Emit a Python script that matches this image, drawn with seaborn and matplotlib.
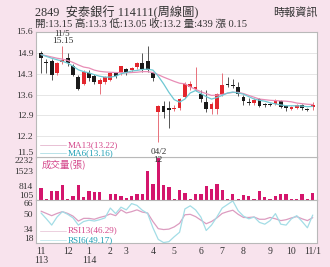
import numpy as np
import pandas as pd
import matplotlib
matplotlib.use("Agg")
import matplotlib.pyplot as plt
import seaborn as sns

# ---------------- data ----------------
opens = [14.92, 14.62, 14.64, 14.25, 14.62, 14.75, 14.49, 14.13, 13.91, 14.27,
         14.16, 13.91, 13.96, 14.04, 14.27, 14.27, 14.38, 14.36, 14.45, 14.58,
         14.64, 14.25, 12.98, 13.18, 13.10, 13.07, 13.12, 13.48, 13.80, 13.72,
         13.57, 13.29, 13.07, 13.07, 13.57, 13.91, 13.87, 13.80, 13.48, 13.30,
         13.26, 13.40, 13.24, 13.24, 13.24, 13.33, 13.18, 13.08, 13.12, 13.22,
         13.08, 13.15]
highs = [14.98, 14.70, 14.70, 14.62, 15.15, 14.92, 14.55, 14.20, 14.35, 14.35,
         14.22, 14.08, 14.15, 14.30, 14.30, 14.50, 14.42, 14.45, 14.60, 14.92,
         15.15, 14.30, 13.20, 13.35, 13.35, 13.20, 13.45, 13.95, 13.98, 14.45,
         13.70, 13.70, 13.30, 13.60, 14.25, 14.13, 14.05, 13.95, 13.52, 13.45,
         13.42, 13.45, 13.28, 13.28, 13.40, 13.38, 13.20, 13.18, 13.25, 13.25,
         13.10, 13.30]
lows = [14.25, 14.25, 14.04, 14.20, 14.55, 14.50, 14.15, 13.70, 13.85, 14.00,
        13.90, 13.57, 13.90, 14.00, 14.10, 14.20, 14.20, 14.30, 14.40, 14.30,
        14.30, 14.00, 12.00, 12.79, 12.45, 13.00, 13.05, 13.45, 13.70, 13.65,
        13.30, 12.98, 12.90, 12.90, 13.50, 13.80, 13.75, 13.50, 13.20, 13.20,
        13.20, 13.15, 13.15, 13.17, 13.20, 13.10, 13.02, 13.03, 13.08, 13.05,
        13.00, 13.05]
closes = [14.75, 14.58, 14.19, 14.58, 14.68, 14.58, 14.19, 13.74, 14.30, 14.08,
          13.96, 14.02, 14.11, 14.27, 14.16, 14.47, 14.27, 14.41, 14.58, 14.38,
          14.36, 14.08, 13.18, 12.99, 13.05, 13.12, 13.40, 13.91, 13.91, 13.78,
          13.40, 13.07, 13.24, 13.57, 13.85, 13.87, 13.82, 13.57, 13.33, 13.28,
          13.38, 13.18, 13.20, 13.20, 13.33, 13.15, 13.10, 13.15, 13.22, 13.12,
          13.05, 13.20]
volume = [699, 150, 566, 566, 843, 145, 327, 843, 233, 532,
          477, 477, 105, 421, 421, 327, 199, 288, 383, 421,
          1548, 899, 2232, 843, 754, 150, 605, 438, 150, 383,
          421, 810, 660, 882, 621, 160, 421, 150, 350, 288,
          150, 532, 233, 160, 288, 383, 383, 150, 150, 383,
          150, 439]
ma13 = [14.86, 14.82, 14.78, 14.74, 14.71, 14.67, 14.60, 14.52, 14.45, 14.42,
        14.35, 14.31, 14.29, 14.28, 14.27, 14.27, 14.26, 14.27, 14.28, 14.30,
        14.30, 14.27, 14.20, 14.12, 14.05, 13.98, 13.92, 13.90, 13.80, 13.72,
        13.64, 13.58, 13.52, 13.53, 13.55, 13.59, 13.62, 13.62, 13.58, 13.52,
        13.46, 13.40, 13.38, 13.36, 13.35, 13.34, 13.33, 13.31, 13.27, 13.25,
        13.23, 13.22]
ma6 = [14.86, 14.80, 14.74, 14.69, 14.64, 14.58, 14.48, 14.36, 14.30, 14.26,
       14.20, 14.15, 14.12, 14.12, 14.15, 14.23, 14.27, 14.32, 14.34, 14.37,
       14.38, 14.35, 14.15, 13.90, 13.62, 13.38, 13.30, 13.40, 13.60, 13.68,
       13.58, 13.48, 13.40, 13.45, 13.52, 13.60, 13.63, 13.60, 13.56, 13.48,
       13.40, 13.36, 13.33, 13.28, 13.24, 13.21, 13.18, 13.18, 13.18, 13.17,
       13.15, 13.16]
rsi13 = [53.5, 51, 48.5, 51, 53, 51, 48, 42.5, 45.5, 45.5,
         44.5, 46.5, 48, 50.5, 48.5, 55, 51.5, 53, 55, 52.5,
         51.5, 42, 34, 33, 33.5, 36, 40, 49.5, 50, 47.5,
         43.5, 39.5, 42, 46, 51, 53, 54.6, 50, 46.5, 46.5,
         47, 44.5, 44.5, 46.5, 45, 43, 44, 46, 47.5, 45,
         43, 46.29]
rsi6 = [51.5, 45, 38, 47, 53, 50, 46, 38, 42, 43.5,
        42.5, 44, 46, 57, 50.8, 58, 55, 62, 60, 54.6,
        51, 35, 22, 18.5, 19.5, 25, 30, 56, 59.5, 55,
        47, 32, 38, 47, 57, 61, 65, 54, 48, 45,
        47, 41, 39, 43, 50.8, 39, 38, 45, 48.5, 42,
        35, 49.17]
x_tick_pos = [0, 5, 9, 13, 16, 21, 25, 30, 34, 38, 43, 47, 51]
x_tick_labels = ["11\n113", "12", "1\n114", "2", "3", "4", "5", "6", "7", "8", "9", "10", "11/1"]
price_tick_labels = ["11.5", "12.2", "12.9", "13.6", "14.3", "14.9", "15.6"]
vol_tick_labels = ["105", "814", "1523", "2232"]
rsi_ticks = [18, 34, 50, 66]

df = pd.DataFrame({"i": np.arange(len(closes)), "open": opens, "high": highs,
                   "low": lows, "close": closes, "vol": volume,
                   "ma13": ma13, "ma6": ma6, "rsi13": rsi13, "rsi6": rsi6})

# ---------------- style ----------------
sns.set_theme(style="white")
plt.rcParams["font.family"] = ["Liberation Serif", "Noto Sans CJK TC", "DejaVu Sans"]
BG = "#f8e3ed"
RED = "#e3262d"
BLK = "#1a1a1a"
C_MA13 = "#e88db6"
C_MA6 = "#6ec8d3"
C_VOL = "#d4156c"
C_R13 = "#dc9cc0"
C_R6 = "#a3dde6"
TXT = "#333333"
EDGE = "#b9b9b9"

W, H = 330, 267
fig = plt.figure(figsize=(W / 100, H / 100), dpi=100, facecolor=BG)

def px_axes(x0, y0, x1, y1):
    return fig.add_axes([x0 / W, 1 - y1 / H, (x1 - x0) / W, (y1 - y0) / H])

L, R = 36, 317
ax_p = px_axes(L, 32, R, 157)
ax_v = px_axes(L, 157, R, 200)
ax_r = px_axes(L, 200, R, 243)
ax_p.set_zorder(3)

xlim = (-0.95, len(closes) - 0.2)

for ax in (ax_p, ax_v, ax_r):
    ax.set_facecolor("white")
    for s in ax.spines.values():
        s.set_color(EDGE)
        s.set_linewidth(0.8)
    ax.tick_params(axis="both", length=0, pad=2, labelsize=6.8, colors=TXT)

# ---------------- price panel ----------------
pt = np.linspace(11.5, 15.6, 7)
ax_p.set_ylim(11.5, 15.6)
ax_p.set_yticks(pt)
ax_p.set_yticklabels(price_tick_labels)
ax_p.grid(axis="y", color="#e6e6e6", lw=0.7)
ax_p.set_axisbelow(True)

up = df["close"] >= df["open"]
cols = np.where(up, RED, BLK)
ax_p.vlines(df["i"], df["low"], df["high"], colors=np.where(up, "#e8707a", "#555555"), lw=0.7, zorder=2)
body_lo = np.minimum(df["open"], df["close"])
body_h = np.maximum(np.abs(df["close"] - df["open"]), 0.02)
ax_p.bar(df["i"], body_h, bottom=body_lo, width=0.72, color=cols, linewidth=0, zorder=3)

sns.lineplot(data=df, x="i", y="ma13", ax=ax_p, color=C_MA13, lw=0.9, zorder=4)
sns.lineplot(data=df, x="i", y="ma6", ax=ax_p, color=C_MA6, lw=0.9, zorder=4)
ax_p.set_xlim(*xlim)
ax_p.set_xticks([])
ax_p.set_xlabel("")
ax_p.set_ylabel("")
lbls = ax_p.get_yticklabels()
lbls[0].set_va("bottom")
lbls[-1].set_va("center")

ax_p.plot([0.014, 0.108], [0.096, 0.096], transform=ax_p.transAxes, color="#e8c0d4", lw=0.7)
ax_p.plot([0.014, 0.108], [0.034, 0.034], transform=ax_p.transAxes, color="#b8e2e8", lw=0.7)
ax_p.text(0.114, 0.096, "MA13(13.22)", transform=ax_p.transAxes, color="#d4468a",
          fontsize=6.6, va="center", ha="left")
ax_p.text(0.114, 0.034, "MA6(13.16)", transform=ax_p.transAxes, color="#1e9fb4",
          fontsize=6.6, va="center", ha="left")

ax_p.text(4, 15.53, "11/5", fontsize=6.4, color=TXT, ha="center", va="center", clip_on=False)
ax_p.text(4, 15.31, "15.15", fontsize=6.8, color=TXT, ha="center", va="center", clip_on=False)
ax_p.text(22, 11.68, "04/2", fontsize=6.6, color=TXT, ha="center", va="center", clip_on=False, zorder=6)
ax_p.text(22, 11.40, "12", fontsize=6.6, color=TXT, ha="center", va="center", clip_on=False, zorder=6)

# ---------------- volume panel ----------------
sns.barplot(data=df, x="i", y="vol", ax=ax_v, color=C_VOL, width=0.62,
            saturation=1, native_scale=True, linewidth=0, zorder=3)
ax_v.set_xlim(*xlim)
ax_v.set_ylim(105, 2232)
ax_v.set_yticks([105, 814, 1523, 2232])
ax_v.set_yticklabels(vol_tick_labels)
ax_v.set_xticks([])
ax_v.set_xlabel("")
ax_v.set_ylabel("")
vl = ax_v.get_yticklabels()
vl[0].set_va("bottom")
vl[-1].set_va("top")
ax_v.text(0.021, 0.84, "成交量(張)", transform=ax_v.transAxes, color="#d4468a",
          fontsize=6.8, va="center", ha="left", family=["Noto Sans CJK TC"])

# ---------------- RSI panel ----------------
sns.lineplot(data=df, x="i", y="rsi13", ax=ax_r, color=C_R13, lw=0.9)
sns.lineplot(data=df, x="i", y="rsi6", ax=ax_r, color=C_R6, lw=0.9)
ax_r.set_xlim(*xlim)
ax_r.set_ylim(18, 66)
ax_r.set_yticks(rsi_ticks)
ax_r.set_yticklabels([str(t) for t in rsi_ticks])
rl = ax_r.get_yticklabels()
rl[0].set_va("bottom")
rl[-1].set_va("top")
ax_r.set_xticks(x_tick_pos)
ax_r.set_xticklabels(x_tick_labels, fontsize=7, linespacing=1.0)
ax_r.tick_params(axis="x", pad=3)
ax_r.set_xlabel("")
ax_r.set_ylabel("")
ax_r.plot([0.014, 0.108], [0.29, 0.29], transform=ax_r.transAxes, color="#ecd0de", lw=0.7)
ax_r.plot([0.014, 0.108], [0.07, 0.07], transform=ax_r.transAxes, color="#c8eaee", lw=0.7)
ax_r.text(0.114, 0.29, "RSI13(46.29)", transform=ax_r.transAxes, color="#d4468a",
          fontsize=6.6, va="center", ha="left")
ax_r.text(0.114, 0.07, "RSI6(49.17)", transform=ax_r.transAxes, color="#1e9fb4",
          fontsize=6.6, va="center", ha="left")

# ---------------- header ----------------
fig.text(35 / W, 1 - 12.5 / H, "2849  安泰銀行 114111(周線圖)", fontsize=8.8, color=TXT,
         ha="left", va="center")
fig.text(318 / W, 1 - 12.5 / H, "時報資訊", fontsize=8.0, color=TXT,
         ha="right", va="center", family=["Noto Sans CJK TC"])
fig.text(35 / W, 1 - 23.5 / H, "開:13.15 高:13.3 低:13.05 收:13.2 量:439 漲 0.15",
         fontsize=7.6, color=TXT, ha="left", va="center")

fig.savefig("out.png", dpi=100, facecolor=BG)
